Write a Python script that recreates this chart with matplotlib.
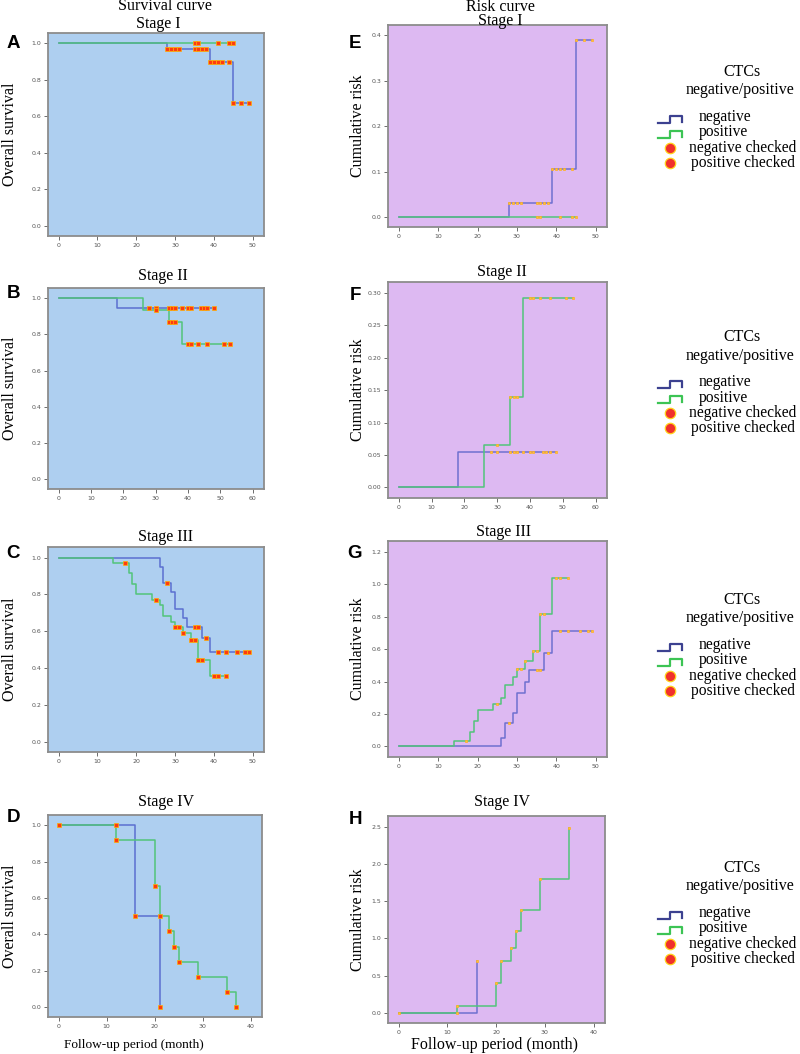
import matplotlib
matplotlib.use("Agg")
import matplotlib.pyplot as plt
from matplotlib.lines import Line2D

# ── Data ──────────────────────────────────────────────────────────────────────
# Stage I
S1_NEG_T = [0, 28, 39, 45, 49]
S1_NEG_S = [1.0, 0.97, 0.90, 0.675, 0.675]
S1_NEG_R = [0.0, 0.03, 0.105, 0.39, 0.39]
S1_NEG_CT = [28, 29, 30, 31, 35, 36, 37, 38, 39, 40, 41, 42, 44, 45, 47, 49]
S1_NEG_CS = [0.97, 0.97, 0.97, 0.97, 0.97, 0.97, 0.97, 0.97,
             0.90, 0.90, 0.90, 0.90, 0.90, 0.675, 0.675, 0.675]
S1_NEG_CR = [0.03, 0.03, 0.03, 0.03, 0.03, 0.03, 0.03, 0.03,
             0.105, 0.105, 0.105, 0.105, 0.105, 0.39, 0.39, 0.39]
S1_POS_T = [0, 45]
S1_POS_S = [1.0, 1.0]
S1_POS_R = [0.0, 0.0]
S1_POS_CT = [35, 36, 41, 44, 45]
S1_POS_CS = [1.0, 1.0, 1.0, 1.0, 1.0]
S1_POS_CR = [0.0, 0.0, 0.0, 0.0, 0.0]

# Stage II
S2_NEG_T = [0, 18, 48]
S2_NEG_S = [1.0, 0.946, 0.946]
S2_NEG_R = [0.0, 0.055, 0.055]
S2_NEG_CT = [28, 30, 34, 35, 36, 38, 40, 41, 44, 45, 46, 48]
S2_NEG_CS = [0.946] * 12
S2_NEG_CR = [0.055] * 12
S2_POS_T = [0, 26, 34, 38, 53]
S2_POS_S = [1.0, 0.937, 0.87, 0.746, 0.746]
S2_POS_R = [0.0, 0.065, 0.14, 0.293, 0.293]
S2_POS_CT = [30, 34, 35, 36, 40, 41, 43, 46, 51, 53]
S2_POS_CS = [0.937, 0.87, 0.87, 0.87, 0.746, 0.746, 0.746, 0.746, 0.746, 0.746]
S2_POS_CR = [0.065, 0.14, 0.14, 0.14, 0.293, 0.293, 0.293, 0.293, 0.293, 0.293]

# Stage III
S3_NEG_T = [0, 26, 27, 29, 30, 32, 33, 37, 39, 49]
S3_NEG_S = [1.0, 0.951, 0.863, 0.815, 0.72, 0.67, 0.624, 0.563, 0.49, 0.49]
S3_NEG_R = [0.0, 0.05, 0.147, 0.205, 0.33, 0.40, 0.47, 0.575, 0.71, 0.71]
S3_NEG_CT = [28, 35, 36, 38, 41, 43, 46, 48, 49]
S3_NEG_CS = [0.863, 0.624, 0.624, 0.563, 0.49, 0.49, 0.49, 0.49, 0.49]
S3_NEG_CR = [0.147, 0.47, 0.47, 0.575, 0.71, 0.71, 0.71, 0.71, 0.71]
S3_POS_T = [0, 14, 18, 19, 20, 24, 26, 27, 29, 30, 32, 34, 36, 39, 43]
S3_POS_S = [1.0, 0.972, 0.917, 0.855, 0.80, 0.77, 0.742, 0.683, 0.652,
            0.622, 0.59, 0.554, 0.443, 0.355, 0.355]
S3_POS_R = [0.0, 0.03, 0.088, 0.155, 0.222, 0.26, 0.30, 0.38, 0.43,
            0.475, 0.527, 0.59, 0.815, 1.037, 1.037]
S3_POS_CT = [17, 25, 30, 31, 32, 34, 35, 36, 37, 40, 41, 43]
S3_POS_CS = [0.972, 0.77, 0.622, 0.622, 0.59, 0.554, 0.554, 0.443, 0.443,
             0.355, 0.355, 0.355]
S3_POS_CR = [0.03, 0.26, 0.475, 0.475, 0.527, 0.59, 0.59, 0.815, 0.815,
             1.037, 1.037, 1.037]

# Stage IV
S4_NEG_T = [0, 16, 21]
S4_NEG_S = [1.0, 0.5, 0.0]
S4_NEG_CT = [0, 16, 21]
S4_NEG_CS = [1.0, 0.5, 0.0]
S4_NEG_RT = [0, 16]
S4_NEG_R = [0.0, 0.69]
S4_NEG_CRT = [0, 12, 16]
S4_NEG_CR = [0.0, 0.0, 0.69]
S4_POS_T = [0, 12, 20, 21, 23, 24, 25, 29, 35, 37]
S4_POS_S = [1.0, 0.917, 0.667, 0.5, 0.417, 0.333, 0.25, 0.167, 0.083, 0.0]
S4_POS_CT = [12, 12, 20, 21, 23, 24, 25, 29, 35, 37]
S4_POS_CS = [1.0, 0.917, 0.667, 0.5, 0.417, 0.333, 0.25, 0.167, 0.083, 0.0]
S4_POS_RT = [0, 12, 20, 21, 23, 24, 25, 29, 35]
S4_POS_R = [0.0, 0.087, 0.405, 0.69, 0.875, 1.10, 1.386, 1.79, 2.48]
S4_POS_CRT = [12, 20, 21, 23, 24, 25, 29, 35]
S4_POS_CR = [0.087, 0.405, 0.69, 0.875, 1.10, 1.386, 1.79, 2.48]

STAGES = ["Stage I", "Stage II", "Stage III", "Stage IV"]
X_TICKS = [[0, 10, 20, 30, 40, 50], [0, 10, 20, 30, 40, 50, 60],
           [0, 10, 20, 30, 40, 50], [0, 10, 20, 30, 40]]
SURV_YTICKS = [0.0, 0.2, 0.4, 0.6, 0.8, 1.0]
RISK_YTICKS = [[0.0, 0.1, 0.2, 0.3, 0.4],
               [0.00, 0.05, 0.10, 0.15, 0.20, 0.25, 0.30],
               [0.0, 0.2, 0.4, 0.6, 0.8, 1.0, 1.2],
               [0.0, 0.5, 1.0, 1.5, 2.0, 2.5]]
RISK_YFMT = ["%.1f", "%.2f", "%.1f", "%.1f"]
LEFT_LETTERS = ["A", "B", "C", "D"]
RIGHT_LETTERS = ["E", "F", "G", "H"]
LEGEND_LABELS = ["negative", "positive", "negative checked", "positive checked"]

# ── Style ─────────────────────────────────────────────────────────────────────
W, H = 800, 1054
SERIF = ["Liberation Serif", "DejaVu Serif"]
SANS = ["Liberation Sans", "DejaVu Sans"]
BG_SURV = "#aecff0"
BG_RISK = "#ddb9f2"
C_NEG = "#5b6fd0"
C_NEG_RISK = "#6f70d0"
C_POS = "#52c47a"
C_NEG_LEG = "#3c4190"
C_POS_LEG = "#3cc454"

# axes boxes in pixels: left, top, right, bottom
LEFT_BOX = [(48, 33, 264, 236), (48, 288, 264, 489),
            (48, 547, 264, 752), (48, 815, 262, 1017)]
RIGHT_BOX = [(388, 25, 607, 227), (388, 282, 607, 498),
             (388, 541, 607, 757), (388, 816, 605, 1023)]
LEFT_TITLE = [(158, 24), (163, 276), (165, 537), (166, 802)]
RIGHT_TITLE = [(500, 21), (502, 272), (503, 532), (502, 802)]
LEFT_LETTER_Y = [44, 294, 554, 818]
RIGHT_LETTER_Y = [44, 296, 553, 819]
LEGEND_Y = [72, 337, 600, 868]


def rect(box):
    l, t, r, b = box
    return [l / W, 1 - b / H, (r - l) / W, (b - t) / H]


def fx(x):
    return x / W


def fy(y):
    return 1 - y / H


def style_axes(ax, bg, xticks, yticks, yfmt):
    ax.set_facecolor(bg)
    for s in ax.spines.values():
        s.set_color("#8c8c8c")
        s.set_linewidth(1.3)
    xmax = xticks[-1]
    ymax = yticks[-1]
    ax.set_xlim(-0.055 * xmax, 1.058 * xmax)
    ax.set_ylim(-0.055 * ymax, 1.057 * ymax)
    ax.set_xticks(xticks)
    ax.set_yticks(yticks)
    ax.set_xticklabels([str(v) for v in xticks])
    ax.set_yticklabels([yfmt % v for v in yticks])
    ax.tick_params(labelsize=4.5, labelcolor="#555555", color="#555555",
                   length=3, width=0.6, pad=2)


def draw_group(ax, t, v, ct, cv, color, mfc, mec, ms):
    ax.step(t, v, where="post", color=color, lw=1.1, zorder=3)
    ax.plot(ct, cv, ls="none", marker="s", ms=ms, mfc=mfc, mec=mec,
            mew=0.5, zorder=4)


fig = plt.figure(figsize=(W / 100, H / 100), dpi=100)

surv = [
    (S1_NEG_T, S1_NEG_S, S1_NEG_CT, S1_NEG_CS, S1_POS_T, S1_POS_S, S1_POS_CT, S1_POS_CS),
    (S2_NEG_T, S2_NEG_S, S2_NEG_CT, S2_NEG_CS, S2_POS_T, S2_POS_S, S2_POS_CT, S2_POS_CS),
    (S3_NEG_T, S3_NEG_S, S3_NEG_CT, S3_NEG_CS, S3_POS_T, S3_POS_S, S3_POS_CT, S3_POS_CS),
    (S4_NEG_T, S4_NEG_S, S4_NEG_CT, S4_NEG_CS, S4_POS_T, S4_POS_S, S4_POS_CT, S4_POS_CS),
]
risk = [
    (S1_NEG_T, S1_NEG_R, S1_NEG_CT, S1_NEG_CR, S1_POS_T, S1_POS_R, S1_POS_CT, S1_POS_CR),
    (S2_NEG_T, S2_NEG_R, S2_NEG_CT, S2_NEG_CR, S2_POS_T, S2_POS_R, S2_POS_CT, S2_POS_CR),
    (S3_NEG_T, S3_NEG_R, S3_NEG_CT, S3_NEG_CR, S3_POS_T, S3_POS_R, S3_POS_CT, S3_POS_CR),
    (S4_NEG_RT, S4_NEG_R, S4_NEG_CRT, S4_NEG_CR, S4_POS_RT, S4_POS_R, S4_POS_CRT, S4_POS_CR),
]

for i in range(4):
    # survival (left column)
    ax = fig.add_axes(rect(LEFT_BOX[i]))
    style_axes(ax, BG_SURV, X_TICKS[i], SURV_YTICKS, "%.1f")
    nt, ns, nct, ncs, pt, ps, pct, pcs = surv[i]
    draw_group(ax, nt, ns, nct, ncs, C_NEG, "#ff3a10", "#ffb000", 2.4)
    draw_group(ax, pt, ps, pct, pcs, C_POS, "#ff3a10", "#ffb000", 2.4)
    l, t, r, b = LEFT_BOX[i]
    fig.text(fx(10), fy((t + b) / 2), "Overall survival", rotation=90,
             ha="center", va="center", family=SERIF, fontsize=11.5)
    fig.text(fx(13), fy(LEFT_LETTER_Y[i]), LEFT_LETTERS[i], ha="center",
             va="center", family=SANS, fontsize=13.5, fontweight="bold")
    fig.text(fx(LEFT_TITLE[i][0]), fy(LEFT_TITLE[i][1]), STAGES[i],
             ha="center", va="center", family=SERIF, fontsize=11.5)

    # risk (right column)
    ax = fig.add_axes(rect(RIGHT_BOX[i]))
    style_axes(ax, BG_RISK, X_TICKS[i], RISK_YTICKS[i], RISK_YFMT[i])
    nt, nr, nct, ncr, pt, pr, pct, pcr = risk[i]
    draw_group(ax, nt, nr, nct, ncr, C_NEG_RISK, "#ffc23a", "#ffb020", 2.1)
    draw_group(ax, pt, pr, pct, pcr, C_POS, "#ffc23a", "#ffb020", 2.1)
    l, t, r, b = RIGHT_BOX[i]
    fig.text(fx(358), fy((t + b) / 2), "Cumulative risk", rotation=90,
             ha="center", va="center", family=SERIF, fontsize=11.5)
    fig.text(fx(355), fy(RIGHT_LETTER_Y[i]), RIGHT_LETTERS[i], ha="center",
             va="center", family=SANS, fontsize=13.5, fontweight="bold")
    fig.text(fx(RIGHT_TITLE[i][0]), fy(RIGHT_TITLE[i][1]), STAGES[i],
             ha="center", va="center", family=SERIF, fontsize=11.5)

    # legend block
    y0 = LEGEND_Y[i]
    fig.text(fx(742), fy(y0), "CTCs", ha="center", va="center",
             family=SERIF, fontsize=11.5)
    fig.text(fx(740), fy(y0 + 18.5), "negative/positive", ha="center",
             va="center", family=SERIF, fontsize=11.5)
    item_y = [y0 + 45, y0 + 60.5, y0 + 76, y0 + 91]
    item_x = [699, 699, 689, 691]
    for k, col in enumerate([C_NEG_LEG, C_POS_LEG]):
        yy = item_y[k]
        xs = [658, 670, 670, 682, 682]
        ys = [yy + 5.5, yy + 5.5, yy - 1.5, yy - 1.5, yy + 4.5]
        fig.add_artist(Line2D([fx(v) for v in xs], [fy(v) for v in ys],
                              color=col, lw=1.6, transform=fig.transFigure))
    for k in (2, 3):
        fig.add_artist(Line2D([fx(670)], [fy(item_y[k])], ls="none",
                              marker="o", ms=7.5, mfc="#f0302c",
                              mec="#ffd21a", mew=0.9,
                              transform=fig.transFigure))
    for k, lab in enumerate(LEGEND_LABELS):
        fig.text(fx(item_x[k]), fy(item_y[k]), lab, ha="left", va="center",
                 family=SERIF, fontsize=11.2)

fig.text(fx(165), fy(6), "Survival curve", ha="center", va="center",
         family=SERIF, fontsize=11.5)
fig.text(fx(500), fy(7), "Risk curve", ha="center", va="center",
         family=SERIF, fontsize=11.5)
fig.text(fx(134), fy(1045), "Follow-up period (month)", ha="center",
         va="center", family=SERIF, fontsize=9.6)
fig.text(fx(494), fy(1045), "Follow-up period (month)", ha="center",
         va="center", family=SERIF, fontsize=11.5)

fig.savefig("out.png", dpi=100)
